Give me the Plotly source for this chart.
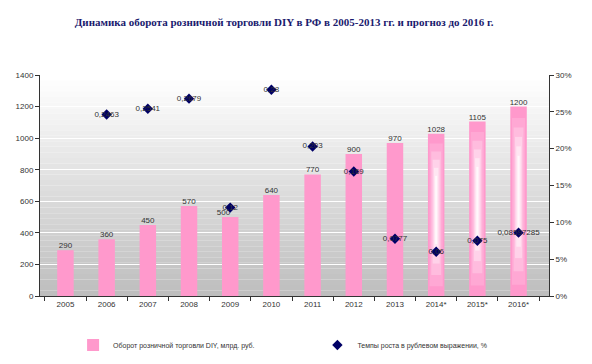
import plotly.graph_objects as go

years = ["2005", "2006", "2007", "2008", "2009", "2010", "2011", "2012", "2013", "2014*", "2015*", "2016*"]
turnover = [290, 360, 450, 570, 500, 640, 770, 900, 970, 1028, 1105, 1200]
growth_years = ["2006", "2007", "2008", "2009", "2010", "2011", "2012", "2013", "2014*", "2015*", "2016*"]
growth = [0.2463, 0.2541, 0.2679, 0.12, 0.28, 0.203, 0.169, 0.0777, 0.06, 0.075, 0.08597285]
growth_labels = ["0,2463", "0,2541", "0,2679", "0,12", "0,28", "0,203", "0,169", "0,0777", "0,06", "0,075", "0,08597285"]
forecast_years = ["2014*", "2015*", "2016*"]
forecast_vals = [1028, 1105, 1200]

title = "Динамика оборота розничной торговли DIY в РФ в 2005-2013 гг. и прогноз до 2016 г."
bar_name = "Оборот розничной торговли DIY, млрд. руб."
line_name = "Темпы роста в рублевом выражении, %"

PINK = "#FF99CC"
NAVY = "#000066"
FONT = "Liberation Sans"
TXT = "#333333"

fig = go.Figure()
fig.add_trace(go.Bar(
    x=years, y=turnover, name=bar_name, marker=dict(color=PINK, line=dict(width=0)),
    width=0.4, legend="legend",
))
# gradient highlight on forecast bars (lighter centre, pink ends)
for w, lo, hi, c in [(0.32, 0.06, 0.94, "#FFA8D4"), (0.24, 0.13, 0.89, "#FFBCDE"),
                     (0.17, 0.20, 0.84, "#FFD2E9"), (0.11, 0.26, 0.79, "#FFE6F2"),
                     (0.05, 0.32, 0.74, "#FFF8FB")]:
    fig.add_trace(go.Bar(
        x=forecast_years, y=[v * (hi - lo) for v in forecast_vals],
        base=[v * lo for v in forecast_vals], width=w,
        marker=dict(color=c, line=dict(width=0)), showlegend=False, hoverinfo="skip",
    ))
# bar value labels
fig.add_trace(go.Scatter(
    x=years, y=turnover, mode="text", text=[str(v) for v in turnover],
    textposition=["top left" if y == "2009" else "top center" for y in years],
    textfont=dict(size=8, color=TXT, family=FONT), showlegend=False, hoverinfo="skip",
    cliponaxis=False,
))
fig.add_trace(go.Scatter(
    x=growth_years, y=growth, name=line_name, yaxis="y2", mode="markers+text",
    marker=dict(symbol="diamond", size=8, color=NAVY),
    text=growth_labels, textposition="middle center",
    textfont=dict(size=8, color=TXT, family=FONT), cliponaxis=False, legend="legend2",
))

# background gradient (white at top to gray at bottom)
shapes = []
n = 40
for i in range(n):
    t = i / (n - 1)
    g = int(round(255 - (255 - 190) * t))
    shapes.append(dict(
        type="rect", xref="paper", yref="paper", x0=0, x1=1,
        y0=1 - (i + 1) / n, y1=1 - i / n, layer="below",
        fillcolor=f"rgb({g},{g},{g})", line=dict(width=0),
    ))

fig.update_layout(
    width=592, height=364,
    margin=dict(l=40, r=43, t=75, b=68, autoexpand=False),
    paper_bgcolor="white", plot_bgcolor="rgba(0,0,0,0)",
    barmode="overlay",
    shapes=shapes,
    title=dict(text=f"<b>{title}</b>", x=0.48, xanchor="center", y=0.94, yanchor="middle",
               yref="container",
               font=dict(family="Liberation Serif", size=11, color="#1A1A6E")),
    font=dict(family=FONT, size=8, color=TXT),
    xaxis=dict(type="category", categoryorder="array", categoryarray=years,
               showgrid=False, showline=True, linecolor=TXT,
               ticks="outside", tickson="boundaries", ticklen=4, tickcolor=TXT,
               tickfont=dict(size=8, color=TXT)),
    yaxis=dict(range=[0, 1400], dtick=200, showgrid=True, gridcolor="white", gridwidth=1,
               showline=True, linecolor=TXT, ticks="outside", ticklen=4,
               tickcolor=TXT, zeroline=False, tickfont=dict(size=8, color=TXT)),
    yaxis2=dict(overlaying="y", side="right", range=[0, 0.3], dtick=0.05, tickformat=".0%",
                showgrid=False, showline=True, linecolor=TXT, ticks="outside",
                ticklen=4, tickcolor=TXT, zeroline=False,
                tickfont=dict(size=8, color=TXT)),
    legend=dict(x=0.065, xanchor="left", y=0.052, yref="container", yanchor="middle",
                font=dict(size=7, color=TXT), itemwidth=30, bgcolor="rgba(0,0,0,0)"),
    legend2=dict(x=0.545, xanchor="left", y=0.052, yref="container", yanchor="middle",
                 font=dict(size=7, color=TXT), itemwidth=30, bgcolor="rgba(0,0,0,0)"),
    showlegend=True,
)

fig.write_html("out.html", config={"displayModeBar": False},
               post_script="document.body.style.margin='0px';")
